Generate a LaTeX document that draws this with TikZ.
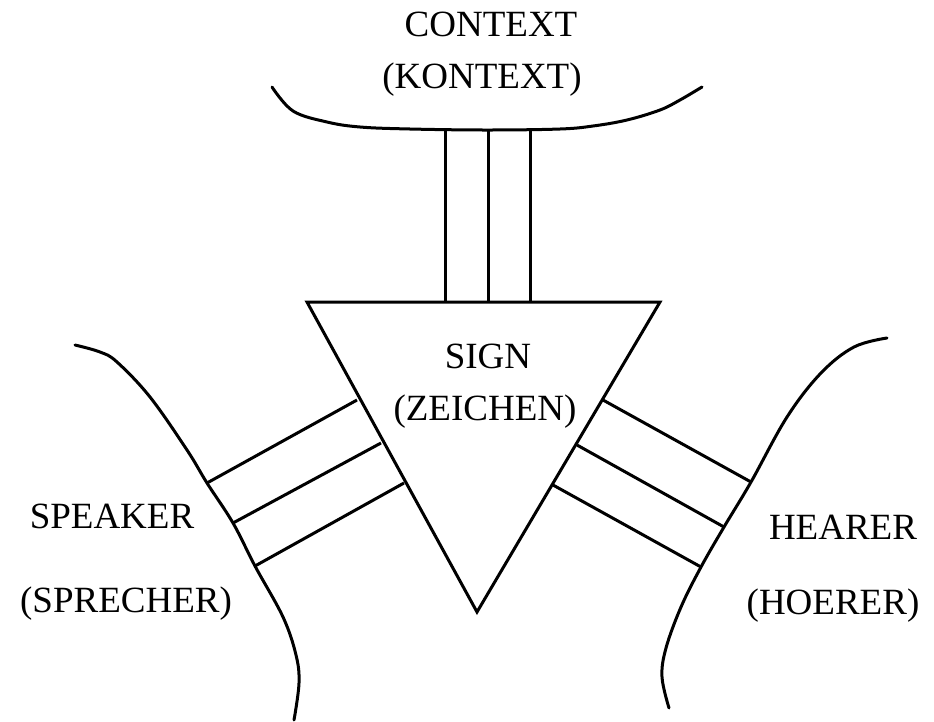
\documentclass[tikz,border=0pt]{standalone}
\usepackage{fontspec}
\setmainfont{Liberation Serif}
\begin{document}
\begin{tikzpicture}[x=1pt,y=-1pt,line width=3pt,line join=miter,
  lbl/.style={font=\fontsize{37}{44}\selectfont,inner sep=0pt,anchor=center},
  curve/.style={line cap=round}]
\useasboundingbox (0,0) rectangle (934,721);
% labels
\node[lbl] (ctx)  at (491,24)  {CONTEXT};
\node[lbl] (kctx) at (482,80)  {(KONTEXT)};
\node[lbl] (sign) at (488,356) {SIGN};
\node[lbl] (zei)  at (485,412) {(ZEICHEN)};
\node[lbl] (spk)  at (112,516) {SPEAKER};
\node[lbl] (spr)  at (126,604) {(SPRECHER)};
\node[lbl] (hea)  at (843,527) {HEARER};
\node[lbl] (hoe)  at (833,606) {(HOERER)};
% context arc
\draw[curve] plot[smooth,tension=0.6] coordinates {(272,87) (293,111) (327,122) (360,127) (410,129) (487,130) (560,129) (593,126) (627,120) (660,110) (680,100) (702,87)};
% sign triangle
\coordinate (tl) at (307,302);
\coordinate (tr) at (660,302);
\coordinate (tb) at (477,612);
\draw (tl) -- (tr) -- (tb) -- cycle;
% context channel
\draw (445,130) -- (445,302);
\draw (488,130) -- (488,302);
\draw (530,130) -- (530,302);
% speaker curve
\draw[curve] plot[smooth,tension=0.6] coordinates {(75,345) (100,352) (117,362) (150,397) (187,450) (207,483) (233,523) (255,566) (283,617) (296,655) (299,683) (294,720)};
% hearer curve
\draw[curve] plot[smooth,tension=0.6] coordinates {(887,338) (854,347) (821,373) (787,417) (751,482) (724,527) (701,567) (681,607) (666,648) (662,677) (669,708)};
% speaker channel
\draw (207,483) -- (357,400);
\draw (233,523) -- (381,443);
\draw (255,566) -- (404,483);
% hearer channel
\draw (603,400) -- (751,482);
\draw (577,445) -- (724,527);
\draw (553,485) -- (701,567);
\end{tikzpicture}
\end{document}
